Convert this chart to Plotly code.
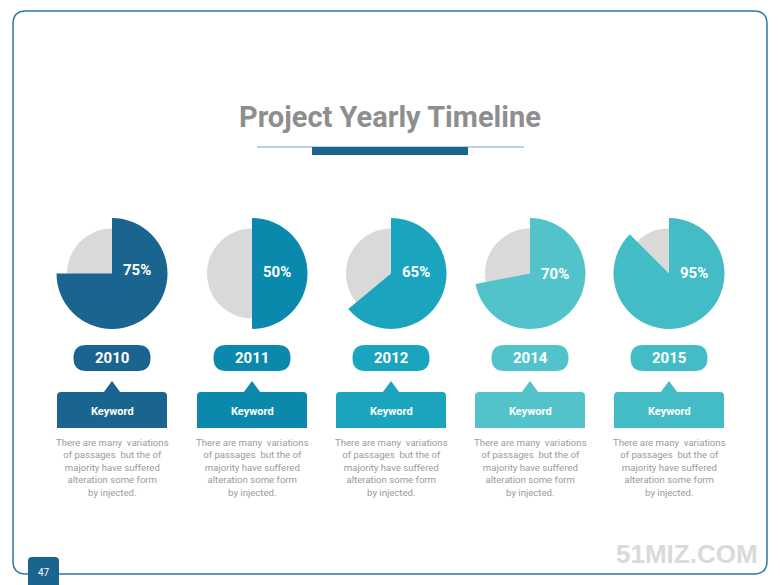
import plotly.graph_objects as go

# ---- data ----
years = ["2010", "2011", "2012", "2014", "2015"]
pct_labels = ["75%", "50%", "65%", "70%", "95%"]
shares = [75, 50, 64, 72, 87.5]          # filled share as drawn in the picture
colors = ["#1a6490", "#0a89ad", "#1ba4be", "#53c3cb", "#44bcc5"]
keyword = "Keyword"
desc = "There are many  variations<br>of passages  but the of<br>majority have suffered<br>alteration some form<br>by injected."

W, H = 780, 585
OFF = 8                       # page body margin
FW, FH = W - OFF, H - OFF     # figure size
centers_x = [112, 252, 391, 530, 669]
label_y = [270, 272, 272, 274, 273]
cy = 273.5
R_big, R_small = 55.5, 45

fig = go.Figure()

def dom(cx, cy, r):
    return dict(x=[(cx - r - OFF) / FW, (cx + r - OFF) / FW],
                y=[1 - (cy + r - OFF) / FH, 1 - (cy - r - OFF) / FH])

for i, (cx, v, c) in enumerate(zip(centers_x, shares, colors)):
    fig.add_trace(go.Pie(values=[v, 100 - v], domain=dom(cx, cy, R_small), sort=False,
                         direction="clockwise", rotation=0, textinfo="none", hoverinfo="skip",
                         marker=dict(colors=["#d9d9d9", "#d9d9d9"], line=dict(width=0)),
                         showlegend=False))
    fig.add_trace(go.Pie(values=[v, 100 - v], domain=dom(cx, cy, R_big), sort=False,
                         direction="clockwise", rotation=0, textinfo="none", hoverinfo="skip",
                         marker=dict(colors=[c, "rgba(0,0,0,0)"], line=dict(width=0)),
                         showlegend=False))

shapes = []
annotations = []

def rounded_rect(x0, y0, x1, y1, r, top_only=False):
    if top_only:
        return (f"M{x0},{y1} L{x0},{y0+r} Q{x0},{y0} {x0+r},{y0} L{x1-r},{y0} "
                f"Q{x1},{y0} {x1},{y0+r} L{x1},{y1} Z")
    return (f"M{x0+r},{y0} L{x1-r},{y0} Q{x1},{y0} {x1},{y0+r} L{x1},{y1-r} Q{x1},{y1} {x1-r},{y1} "
            f"L{x0+r},{y1} Q{x0},{y1} {x0},{y1-r} L{x0},{y0+r} Q{x0},{y0} {x0+r},{y0} Z")

# border
shapes.append(dict(type="path", xref="x", yref="y", path=rounded_rect(13, 11, 767, 574, 13),
                   line=dict(color="#2f76a6", width=1.5), fillcolor="rgba(0,0,0,0)", layer="below"))
# title underline
shapes.append(dict(type="line", xref="x", yref="y", x0=257, x1=524, y0=147, y1=147,
                   line=dict(color="#7aa6c6", width=1)))
shapes.append(dict(type="rect", xref="x", yref="y", x0=312, x1=468, y0=147, y1=155,
                   fillcolor="#1a6490", line=dict(width=0)))
# page number box
shapes.append(dict(type="path", xref="x", yref="y", path=rounded_rect(28, 557, 59, 590, 4, top_only=True),
                   fillcolor="#1a6490", line=dict(width=0)))

annotations.append(dict(x=390, y=117, xref="x", yref="y", text="<b>Project Yearly Timeline</b>",
                        showarrow=False, font=dict(family="Roboto", size=29, color="#8e8e8e")))
annotations.append(dict(x=43.5, y=572, xref="x", yref="y", text="47", showarrow=False,
                        font=dict(family="Roboto", size=10, color="white")))
annotations.append(dict(x=760, y=554, xref="x", yref="y", text="<b>51MIZ.COM</b>", xanchor="right",
                        showarrow=False, font=dict(family="Liberation Sans", size=26, color="#dadada")))

for i, (cx, ly, yr, lab, c) in enumerate(zip(centers_x, label_y, years, pct_labels, colors)):
    annotations.append(dict(x=cx + 25, y=ly, xref="x", yref="y", text=f"<b>{lab}</b>", showarrow=False,
                            font=dict(family="Roboto", size=15, color="white")))
    shapes.append(dict(type="path", xref="x", yref="y",
                       path=rounded_rect(cx - 38.5, 345, cx + 38.5, 371, 13),
                       fillcolor=c, line=dict(width=0)))
    annotations.append(dict(x=cx, y=358, xref="x", yref="y", text=f"<b>{yr}</b>", showarrow=False,
                            font=dict(family="Roboto", size=15, color="white")))
    shapes.append(dict(type="path", xref="x", yref="y",
                       path=rounded_rect(cx - 55, 392, cx + 55, 428, 4, top_only=True),
                       fillcolor=c, line=dict(width=0)))
    shapes.append(dict(type="path", xref="x", yref="y",
                       path=f"M{cx-8.5},392.5 L{cx},381 L{cx+8.5},392.5 Z",
                       fillcolor=c, line=dict(width=0)))
    annotations.append(dict(x=cx, y=411, xref="x", yref="y", text=f"<b>{keyword}</b>", showarrow=False,
                            font=dict(family="Roboto", size=11, color="white")))
    annotations.append(dict(x=cx, y=467, xref="x", yref="y", text=desc, showarrow=False,
                            align="center", font=dict(family="Roboto", size=9.6, color="#9a9a9a")))

fig.update_layout(
    width=FW, height=FH, margin=dict(l=0, r=0, t=0, b=0),
    paper_bgcolor="white", plot_bgcolor="rgba(0,0,0,0)",
    xaxis=dict(range=[OFF, W], visible=False, fixedrange=True),
    yaxis=dict(range=[H, OFF], visible=False, fixedrange=True),
    shapes=shapes, annotations=annotations, showlegend=False,
)
fig.write_html("out.html")
